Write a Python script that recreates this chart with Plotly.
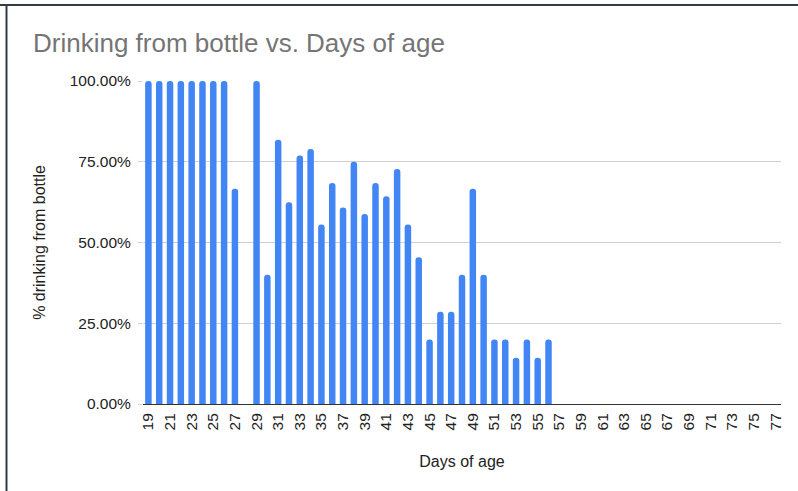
import plotly.graph_objects as go

days = list(range(19, 78))
pct_bottle = [
    1.0, 1.0, 1.0, 1.0, 1.0, 1.0, 1.0, 1.0,   # 19-26
    0.6667, None,                              # 27-28
    1.0, 0.40, 0.8182, 0.625, 0.7692, 0.7895,  # 29-34
    0.5556, 0.6842, 0.6087, 0.75, 0.5882,      # 35-39
    0.6842, 0.6429, 0.7273, 0.5556, 0.4545,    # 40-44
    0.20, 0.2857, 0.2857, 0.40, 0.6667,        # 45-49
    0.40, 0.20, 0.20, 0.1429, 0.20, 0.1429, 0.20,  # 50-56
] + [None] * 21                                # 57-77

tick_days = list(range(19, 78, 2))
tick_labels = [str(d) for d in tick_days]
y_ticks = [0, 0.25, 0.5, 0.75, 1.0]

FONT = "Arial, Liberation Sans, sans-serif"

fig = go.Figure(
    go.Bar(
        x=days,
        y=pct_bottle,
        width=0.6,
        marker=dict(color="#4285F4", cornerradius=3, line=dict(width=0)),
    )
)

L, R, T, B = 143, 781, 81, 404
W, H = 798, 491

def px_x(p):
    return (p - L) / (R - L)

def px_y(p):
    return (B - p) / (B - T)

border = "#2e3d48"
fig.add_shape(type="line", xref="paper", yref="paper",
              x0=px_x(0), x1=px_x(W), y0=px_y(5), y1=px_y(5),
              line=dict(color=border, width=2))
fig.add_shape(type="line", xref="paper", yref="paper",
              x0=px_x(6.5), x1=px_x(6.5), y0=px_y(5), y1=px_y(H),
              line=dict(color=border, width=2))

fig.update_layout(
    width=W, height=H,
    margin=dict(l=L, r=W - R, t=T, b=H - B, pad=0),
    paper_bgcolor="white",
    plot_bgcolor="white",
    showlegend=False,
    font=dict(family=FONT, size=15, color="#222222"),
    title=dict(
        text="Drinking from bottle vs. Days of age",
        font=dict(family=FONT, size=26, color="#757575"),
        xref="container", yref="container",
        x=33 / W, xanchor="left",
        y=1 - 43 / H, yanchor="middle",
    ),
    bargap=0.4,
)

fig.update_xaxes(
    range=[18.5, 77.5],
    tickmode="array",
    tickvals=tick_days,
    ticktext=tick_labels,
    tickangle=-90,
    tickfont=dict(family=FONT, size=15.5, color="#222222"),
    ticklabelstandoff=2,
    showgrid=False,
    zeroline=False,
    showline=True,
    linecolor="#333333",
    linewidth=1,
    ticks="",
    title=dict(text="Days of age", font=dict(family=FONT, size=16, color="#222222"), standoff=26),
)

fig.update_yaxes(
    range=[0, 1.0],
    tickmode="array",
    tickvals=y_ticks,
    tickformat=".2%",
    tickfont=dict(family=FONT, size=15.5, color="#222222"),
    ticklabelstandoff=4,
    showgrid=True,
    gridcolor="#d0d0d0",
    gridwidth=1,
    zeroline=False,
    ticks="outside",
    ticklen=4,
    tickcolor="#d0d0d0",
    title=dict(text="% drinking from bottle", font=dict(family=FONT, size=16, color="#222222"), standoff=20),
)

fig.write_html("out.html", config={"displayModeBar": False},
               post_script="document.body.style.margin='0';")
